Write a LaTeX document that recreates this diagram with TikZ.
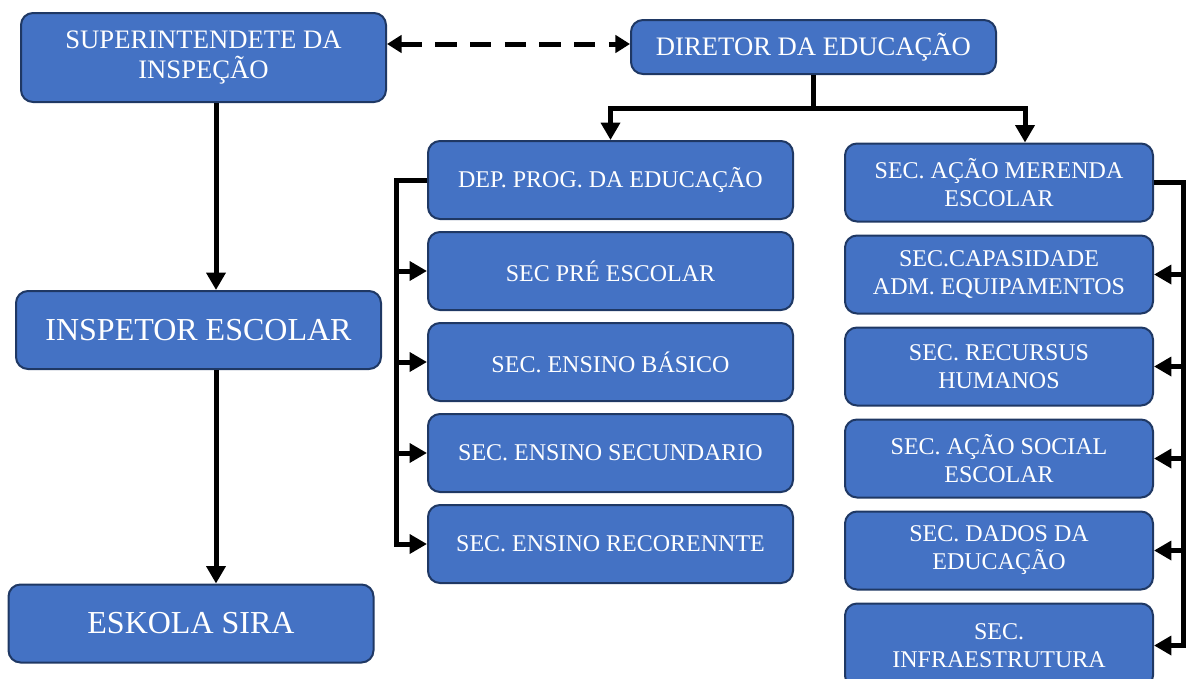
\documentclass[tikz,border=0pt]{standalone}
\usepackage{fontspec}
\setmainfont{Liberation Serif}
\usetikzlibrary{positioning,arrows.meta}
\definecolor{boxfill}{HTML}{4472C4}
\definecolor{boxline}{HTML}{1F3864}
\tikzset{%
unit/.style={draw=boxline,fill=boxfill,line width=1.5pt,rounded corners=9pt,text=white,align=center,inner sep=2pt,minimum width=273.75pt,minimum height=58.5pt},
unitsec/.style={unit,font=\fontsize{18}{21}\selectfont},
unitsecr/.style={unitsec,minimum width=231pt},
unithead/.style={unit,font=\fontsize{20}{22}\selectfont},
unitbig/.style={unit,font=\fontsize{24}{28}\selectfont},
bus/.style={line width=3.75pt},
link/.style={bus,-{Triangle[length=13pt,width=14pt]}},
peer/.style={bus,dash pattern=on 16pt off 10pt,{Triangle[length=11pt,width=13pt]}-{Triangle[length=11pt,width=13pt]}}
}
\begin{document}
\begin{tikzpicture}[x=0.75pt,y=-0.75pt]
\useasboundingbox (0,0) rectangle (1187,678);

    \node[unithead,minimum height=66.75pt] (sup) at (203.5,57.5) {SUPERINTENDETE DA\\INSPEÇÃO};
    \node[unithead,minimum height=40.5pt] (dir) at (813.5,47) {DIRETOR DA EDUCAÇÃO};
    \node[unitbig] (insp) at (198.5,330) {INSPETOR ESCOLAR};
    \node[unitbig] (esk) at (191,623.5) {ESKOLA SIRA};

    % left column
    \node[unitsec] (dep) at (610.5,180) {DEP. PROG. DA EDUCAÇÃO};
    \node[unitsec,below=8.25pt of dep] (pre) {SEC PRÉ ESCOLAR};
    \node[unitsec,below=8.25pt of pre] (bas) {SEC. ENSINO BÁSICO};
    \node[unitsec,below=8.25pt of bas] (secu) {SEC. ENSINO SECUNDARIO};
    \node[unitsec,below=8.25pt of secu] (rec) {SEC. ENSINO RECORENNTE};

    % right column
    \node[unitsecr] (mer) at (999,182.5) {SEC. AÇÃO MERENDA\\ESCOLAR};
    \node[unitsecr,below=9pt of mer] (cap) {SEC.CAPASIDADE\\ADM. EQUIPAMENTOS};
    \node[unitsecr,below=9pt of cap] (rh) {SEC. RECURSUS\\HUMANOS};
    \node[unitsecr,below=9pt of rh] (soc) {SEC. AÇÃO SOCIAL\\ESCOLAR};
    \node[unitsecr,below=9pt of soc] (dad) {SEC. DADOS DA\\EDUCAÇÃO};
    \node[unitsecr,below=9pt of dad,minimum height=63pt] (inf) {SEC.\\INFRAESTRUTURA};

    \coordinate (peery) at (0,44);
    \coordinate (trunk) at (216,0);
    \coordinate (hbar) at (0,108);
    \coordinate (mertap) at (1025,0);
    \coordinate (lbus) at (396,0);
    \coordinate (rbus) at (1183,0);

    \draw[peer] (sup.east |- peery) -- (dir.west |- peery);
    \draw[link] (sup.south -| trunk) -- (insp.north -| trunk);
    \draw[link] (insp.south -| trunk) -- (esk.north -| trunk);

    \draw[link] (dir.south) |- (dep.north |- hbar) -- (dep.north);
    \draw[link] (dir.south |- hbar) -| (mertap |- mer.north);

    \draw[link] (dep.west) -| (lbus |- rec.west) -- (rec.west);
    \foreach \n in {pre,bas,secu}
      \draw[link] (lbus |- \n.west) -- (\n.west);

    \draw[link] (mer.east) -| (rbus |- inf.east) -- (inf.east);
    \foreach \n in {cap,rh,soc,dad}
      \draw[link] (rbus |- \n.east) -- (\n.east);

\end{tikzpicture}
\end{document}
